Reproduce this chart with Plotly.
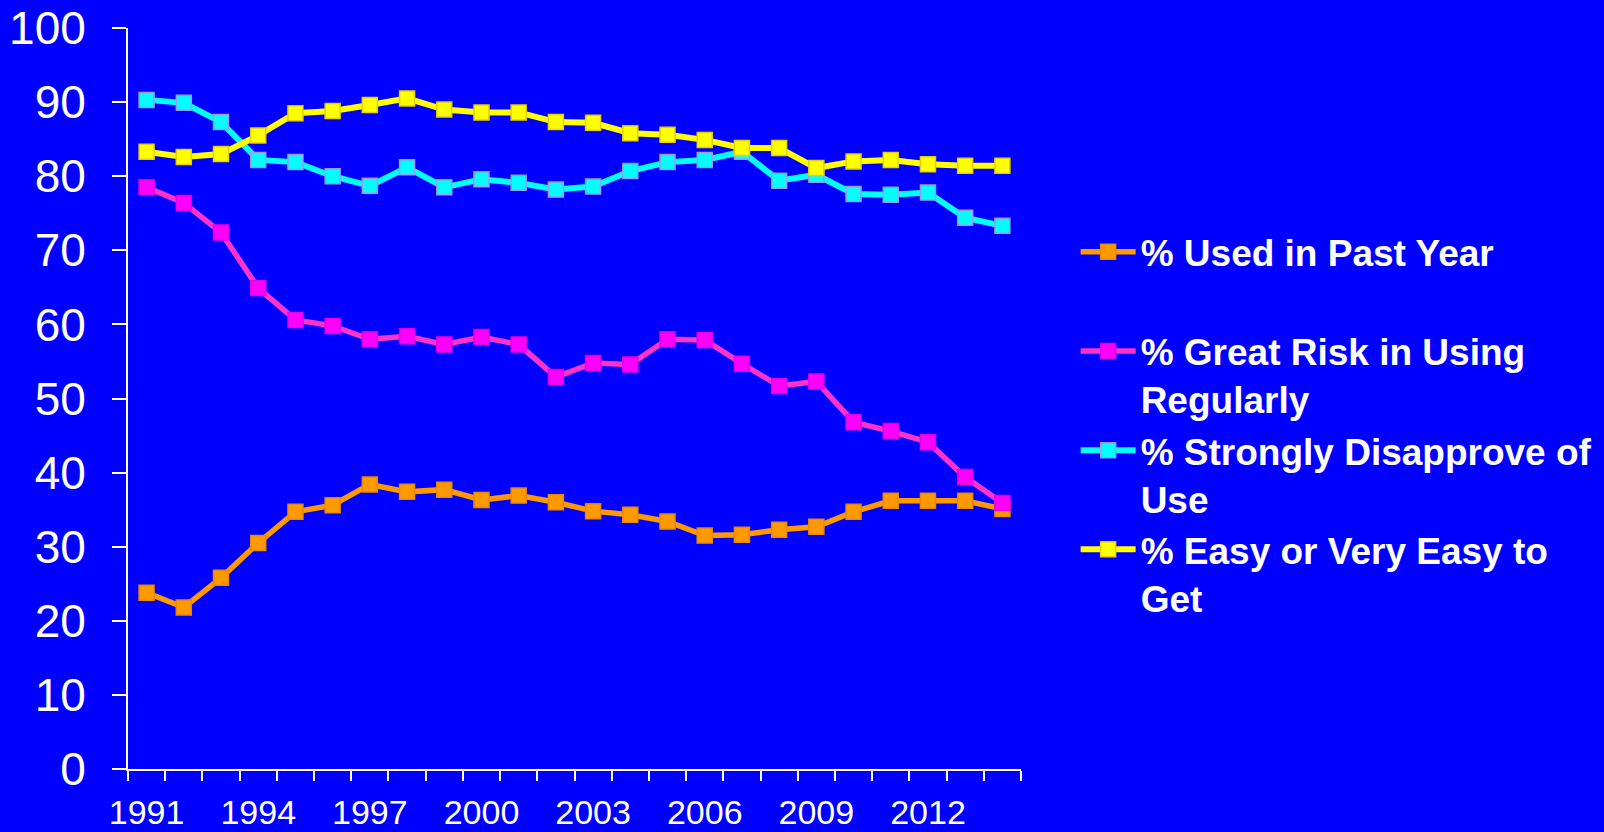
import plotly.graph_objects as go

years = list(range(1991, 2015))
used_past_year = [23.8, 21.8, 25.8, 30.5, 34.7, 35.6, 38.4, 37.4, 37.7, 36.3, 36.9, 36.0,
                  34.8, 34.3, 33.4, 31.5, 31.6, 32.3, 32.7, 34.7, 36.2, 36.2, 36.2, 35.1]
great_risk = [78.5, 76.4, 72.4, 64.9, 60.6, 59.8, 58.0, 58.4, 57.3, 58.3, 57.3, 52.9,
              54.8, 54.6, 58.0, 57.9, 54.7, 51.7, 52.3, 46.8, 45.6, 44.1, 39.4, 35.9]
strongly_disapprove = [90.3, 89.9, 87.3, 82.2, 81.9, 80.0, 78.7, 81.2, 78.5, 79.6, 79.1, 78.2,
                       78.6, 80.7, 81.9, 82.2, 83.3, 79.4, 80.2, 77.6, 77.5, 77.8, 74.4, 73.3]
easy_to_get = [83.3, 82.6, 83.0, 85.5, 88.5, 88.8, 89.6, 90.5, 89.0, 88.6, 88.6, 87.3,
               87.2, 85.8, 85.6, 84.9, 83.8, 83.8, 81.1, 82.0, 82.2, 81.6, 81.4, 81.4]
tick_years = [1991, 1994, 1997, 2000, 2003, 2006, 2009, 2012]

series_names = [
    "% Used in Past Year<br>\u00a0",
    "% Great Risk in Using<br>Regularly",
    "% Strongly Disapprove of<br>Use",
    "% Easy or Very Easy to<br>Get",
]
series_values = [used_past_year, great_risk, strongly_disapprove, easy_to_get]
line_colors = ["#FF9900", "#FF33CC", "#00FFFF", "#FFFF00"]
line_widths = [5.5, 5.5, 6, 6]
marker_colors = ["#FF9900", "#FF00FF", "#00FFFF", "#FFFF00"]
marker_borders = ["#E88A00", "#E600E6", "#9999FF", "#E6D000"]

fig = go.Figure()
for i, (name, vals) in enumerate(zip(series_names, series_values)):
    fig.add_trace(go.Scatter(
        x=years, y=vals, name=name, mode="lines+markers",
        line=dict(color=line_colors[i], width=line_widths[i]),
        marker=dict(symbol="square", size=15, color=marker_colors[i],
                    line=dict(color=marker_borders[i], width=1.5)),
    ))

FONT = "Liberation Sans, Arial, sans-serif"
fig.update_layout(
    width=1604, height=832,
    margin=dict(l=127.5, r=583, t=28, b=63, pad=0, autoexpand=False),
    paper_bgcolor="#0000FF", plot_bgcolor="#0000FF",
    font=dict(family=FONT, color="white"),
    showlegend=True,
    legend=dict(
        x=1.0612, y=0.7393, xanchor="left", yanchor="top",
        bgcolor="rgba(0,0,0,0)", borderwidth=0,
        valign="top", tracegroupgap=0, itemwidth=55,
        font=dict(family=FONT, size=37, color="white", weight="bold"),
    ),
    xaxis=dict(
        range=[1990.5, 2014.5], tickmode="array", tickvals=tick_years,
        ticktext=[str(y) for y in tick_years], ticks="", showgrid=False,
        zeroline=False, showline=True, linecolor="white", linewidth=2,
        tickfont=dict(family=FONT, size=34, color="white"),
        ticklabelstandoff=12,
        minor=dict(tickmode="linear", tick0=1990.5, dtick=1, ticks="outside",
                   ticklen=10, tickwidth=2, tickcolor="white", showgrid=False),
    ),
    yaxis=dict(
        range=[0, 100], tickmode="linear", tick0=0, dtick=10,
        ticks="outside", ticklen=14, tickwidth=2, tickcolor="white",
        showgrid=False, zeroline=False, showline=True, linecolor="white", linewidth=2,
        tickfont=dict(family=FONT, size=46, color="white"),
        ticklabelstandoff=17,
    ),
)

fig.write_html(
    "out.html",
    config={"displayModeBar": False},
    post_script="document.body.style.margin='0';document.body.style.padding='0';"
                "document.body.style.overflow='hidden';",
)
